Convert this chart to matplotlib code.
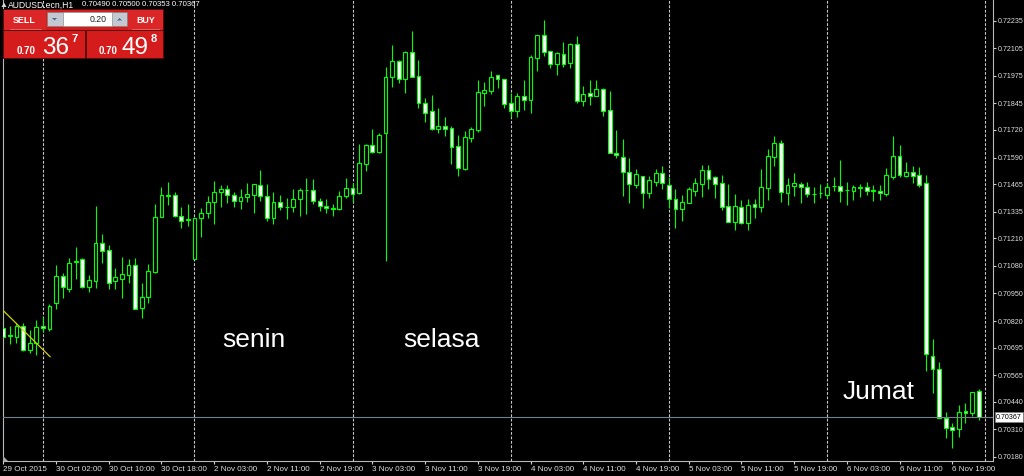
import matplotlib
matplotlib.use("Agg")
import matplotlib.pyplot as plt
import matplotlib.transforms as mtransforms
from matplotlib.patches import Rectangle, Polygon
import numpy as np

plt.rcParams['font.family'] = ['Liberation Sans', 'DejaVu Sans']
plt.rcParams['lines.scale_dashes'] = False

# ---------------- data (AUDUSD.ecn, H1) -- prices in points, price = points / 100000
open_pts = [70789, 70754, 70746, 70798, 70684, 70717, 70798, 70784, 70903, 71033,
            70969, 71098, 71114, 70982, 71010, 71186, 71155, 71009, 71019, 71038,
            71084, 70880, 70935, 71052, 71311, 71407, 71414, 71316, 71296, 71114,
            71304, 71327, 71382, 71426, 71440, 71414, 71387, 71403, 71414, 71461,
            71409, 71304, 71379, 71357, 71358, 71393, 71435, 71437, 71387, 71362,
            71350, 71348, 71409, 71445, 71422, 71560, 71649, 71618, 71704, 71968,
            72046, 71959, 72089, 71976, 71848, 71809, 71726, 71740, 71728, 71644,
            71536, 71683, 71720, 71893, 71903, 71979, 71960, 71846, 71811, 71880,
            71861, 72057, 72167, 72092, 72029, 72076, 72034, 72125, 71856, 71893,
            71880, 71911, 71814, 71610, 71594, 71523, 71461, 71503, 71422, 71476,
            71516, 71461, 71393, 71346, 71377, 71434, 71465, 71531, 71497, 71469,
            71362, 71288, 71356, 71280, 71370, 71358, 71445, 71591, 71660, 71424,
            71457, 71464, 71450, 71419, 71421, 71414, 71454, 71457, 71435, 71434,
            71446, 71450, 71432, 71434, 71418, 71500, 71597, 71505, 71521, 71508,
            71469, 70657, 70593, 70365, 70322, 70310, 70398, 70385, 70490]
high_pts = [70840, 70798, 70811, 70809, 70778, 70825, 70840, 70900, 71084, 71046,
            71117, 71167, 71117, 71037, 71362, 71230, 71178, 71068, 71123, 71112,
            71115, 70998, 71089, 71371, 71453, 71476, 71426, 71356, 71371, 71311,
            71351, 71410, 71481, 71461, 71461, 71429, 71440, 71469, 71466, 71531,
            71465, 71426, 71414, 71398, 71440, 71445, 71492, 71488, 71398, 71393,
            71371, 71432, 71492, 71469, 71654, 71654, 71723, 71704, 72015, 72120,
            72048, 72091, 72186, 72049, 71869, 71885, 71822, 71782, 71739, 71696,
            71716, 71735, 71955, 71947, 71998, 71981, 71962, 71893, 71893, 71955,
            72073, 72169, 72238, 72094, 72089, 72133, 72131, 72162, 71927, 71955,
            71955, 71916, 71903, 71720, 71677, 71586, 71536, 71505, 71503, 71535,
            71550, 71500, 71440, 71414, 71453, 71492, 71555, 71555, 71503, 71508,
            71465, 71418, 71390, 71393, 71395, 71536, 71629, 71691, 71673, 71492,
            71516, 71476, 71473, 71453, 71465, 71472, 71500, 71578, 71476, 71461,
            71465, 71476, 71461, 71461, 71539, 71691, 71649, 71570, 71552, 71544,
            71508, 70734, 70628, 70393, 70338, 70424, 70432, 70486, 70500]
low_pts = [70717, 70712, 70717, 70680, 70668, 70660, 70770, 70774, 70877, 70930,
           70958, 71018, 70974, 70955, 70974, 71092, 70969, 70969, 70930, 71001,
           70875, 70833, 70906, 71045, 71308, 71366, 71311, 71260, 71268, 71111,
           71214, 71304, 71277, 71358, 71374, 71356, 71348, 71382, 71327, 71387,
           71291, 71277, 71343, 71299, 71335, 71315, 71323, 71371, 71338, 71330,
           71316, 71343, 71398, 71382, 71420, 71528, 71610, 71613, 71104, 71924,
           71943, 71893, 71968, 71825, 71759, 71720, 71704, 71691, 71560, 71503,
           71531, 71665, 71712, 71834, 71888, 71919, 71825, 71782, 71782, 71814,
           71798, 71999, 72068, 72010, 71979, 72018, 72010, 71846, 71833, 71837,
           71882, 71786, 71611, 71586, 71410, 71374, 71445, 71354, 71398, 71457,
           71442, 71354, 71257, 71293, 71375, 71409, 71403, 71442, 71398, 71343,
           71286, 71249, 71277, 71249, 71307, 71335, 71390, 71552, 71379, 71366,
           71409, 71374, 71403, 71377, 71401, 71398, 71434, 71382, 71366, 71390,
           71403, 71414, 71387, 71390, 71409, 71488, 71500, 71500, 71469, 71453,
           70586, 70482, 70362, 70268, 70221, 70275, 70341, 70373, 70353]
close_pts = [70746, 70749, 70798, 70684, 70718, 70792, 70789, 70891, 71033, 70979,
             71092, 71103, 70979, 71013, 71186, 71151, 71001, 71026, 71042, 71084,
             70878, 70935, 71057, 71311, 71412, 71412, 71315, 71293, 71299, 71304,
             71327, 71382, 71429, 71442, 71414, 71385, 71406, 71417, 71464, 71409,
             71304, 71379, 71356, 71355, 71393, 71437, 71438, 71385, 71362, 71351,
             71348, 71409, 71445, 71417, 71563, 71649, 71618, 71696, 71971, 72045,
             71959, 72089, 71971, 71846, 71801, 71723, 71739, 71724, 71641, 71542,
             71688, 71724, 71900, 71908, 71971, 71960, 71841, 71811, 71880, 71861,
             72062, 72167, 72089, 72029, 72081, 72031, 72125, 71856, 71889, 71880,
             71911, 71811, 71613, 71600, 71523, 71464, 71512, 71422, 71484, 71516,
             71469, 71393, 71346, 71379, 71440, 71469, 71531, 71489, 71465, 71358,
             71288, 71362, 71280, 71366, 71356, 71450, 71597, 71657, 71426, 71461,
             71469, 71450, 71417, 71416, 71424, 71450, 71457, 71434, 71438, 71450,
             71449, 71434, 71435, 71422, 71508, 71597, 71508, 71521, 71503, 71461,
             70665, 70593, 70365, 70318, 70307, 70393, 70385, 70484, 70367]

time_labels = ["29 Oct 2015", "30 Oct 02:00", "30 Oct 10:00", "30 Oct 18:00",
               "2 Nov 03:00", "2 Nov 11:00", "2 Nov 19:00", "3 Nov 03:00",
               "3 Nov 11:00", "3 Nov 19:00", "4 Nov 03:00", "4 Nov 11:00",
               "4 Nov 19:00", "5 Nov 03:00", "5 Nov 11:00", "5 Nov 19:00",
               "6 Nov 03:00", "6 Nov 11:00", "6 Nov 19:00"]
time_label_bars = [0, 8, 16, 24, 32, 40, 48, 56, 64, 72, 80, 88, 96, 104, 112, 120, 128, 136, 144]
day_start_bars = [6, 29, 53, 77, 101, 125, 149]
price_ticks = [0.72235, 0.72105, 0.71975, 0.71845, 0.71720, 0.71590, 0.71465, 0.71335,
               0.71210, 0.71080, 0.70950, 0.70820, 0.70695, 0.70565, 0.70440, 0.70310, 0.70180]
last_price = 0.70367
trend_x = [0.0, 7.1]
trend_y = [0.70869, 0.70652]
day_notes = [("senin", 33.2, 0.70698), ("selasa", 60.7, 0.70698), ("Jumat", 127.4, 0.70455)]

symbol = "AUDUSD.ecn,H1"
ohlc_text = "0.70490 0.70500 0.70353 0.70367"
lot = "0.20"
bid_big, bid_small = "36", "7"
ask_big, ask_small = "49", "8"

# ---------------- figure
W, H = 1024, 476
fig = plt.figure(figsize=(W / 100, H / 100), dpi=100, facecolor='black')
ax = fig.add_axes([3 / W, (H - 460.7) / H, 990 / W, 460.7 / H], facecolor='black')

o = np.array(open_pts) / 1e5
h = np.array(high_pts) / 1e5
l = np.array(low_pts) / 1e5
c = np.array(close_pts) / 1e5
x = np.arange(len(o))
bull = c >= o

GREEN = '#00ff00'
ax.vlines(x, l, h, colors=GREEN, lw=0.8, zorder=2)
ax.bar(x, np.maximum(np.abs(c - o), 0.000012), bottom=np.minimum(o, c), width=0.58,
       color=np.where(bull, 'black', 'white'), edgecolor=GREEN, linewidth=0.8, zorder=3)

ax.set_xlim(-0.046, 150.18)
ax.set_ylim(0.701621, 0.72332)

for d in day_start_bars:
    ax.axvline(d, color='#c8c8c8', lw=0.8, linestyle=(0, (2.0, 1.2)), zorder=1)

ax.axhline(last_price, color='#708090', lw=0.8, zorder=4)
ax.plot(trend_x, trend_y, color='#d2d200', lw=0.9, zorder=5)

for txt, bx, py in day_notes:
    ax.text(bx, py, txt, color='white', fontsize=19, ha='left', va='baseline', zorder=6)

for s in ['left', 'bottom', 'right']:
    ax.spines[s].set_color('#b8b8b8')
    ax.spines[s].set_linewidth(0.8)
ax.spines['top'].set_visible(False)

ax.yaxis.tick_right()
ax.set_yticks(price_ticks)
ax.set_yticklabels([f"{v:.5f}" for v in price_ticks])
ax.tick_params(axis='y', colors='#d0d0d0', labelsize=5.1, length=2.5, width=0.8, pad=1.0)
ax.set_xticks(time_label_bars)
ax.set_xticklabels(time_labels, ha='left')
ax.tick_params(axis='x', colors='#d0d0d0', labelsize=5.8, length=2.5, width=0.8, pad=1.0)
for lab in ax.get_xticklabels():
    lab.set_color('#e0e0e0')
for lab in ax.get_yticklabels():
    lab.set_color('#e0e0e0')

trans = mtransforms.blended_transform_factory(ax.transAxes, ax.transData)
ax.text(1.003, last_price, f"{last_price:.5f}", transform=trans, color='black', fontsize=5.1,
        ha='left', va='center', zorder=7, clip_on=False,
        bbox=dict(boxstyle='square,pad=0.2', fc='white', ec='#808080', lw=0.5))

# ---------------- overlay (one-click trading panel and header)
ov = fig.add_axes([0, 0, 1, 1], facecolor='none')
ov.set_xlim(0, W)
ov.set_ylim(H, 0)
ov.axis('off')

RED = '#d51c1c'
ov.add_patch(Rectangle((3, 9), 161, 50, fc='#5a0a0a', ec='none'))
ov.add_patch(Rectangle((4, 10), 42, 20, fc='#da2626', ec='none'))
ov.add_patch(Rectangle((128, 10), 35, 20, fc='#da2626', ec='none'))
ov.add_patch(Rectangle((46, 10), 82, 20, fc=RED, ec='none'))
ov.add_patch(Rectangle((4, 31), 81, 27, fc=RED, ec='none'))
ov.add_patch(Rectangle((87, 31), 76, 27, fc=RED, ec='none'))
ov.plot([10, 41], [28.5, 28.5], color='#e86a6a', lw=0.6)
ov.plot([132, 159], [28.5, 28.5], color='#e86a6a', lw=0.6)
ov.add_patch(Rectangle((47, 12), 80, 14, fc='#c4c8d0', ec='#808080', lw=0.5))
ov.add_patch(Rectangle((63, 12), 49, 14, fc='white', ec='#909090', lw=0.5))
ov.add_patch(Polygon([(52, 18), (57, 18), (54.5, 20.5)], fc='#4a6a9a', ec='none'))
ov.add_patch(Polygon([(117, 20.5), (122, 20.5), (119.5, 18)], fc='#4a6a9a', ec='none'))
ov.text(24.5, 20.5, "SELL", color='white', fontsize=6.4, fontweight='bold', ha='center', va='center')
ov.text(145.5, 20.5, "BUY", color='white', fontsize=6.4, fontweight='bold', ha='center', va='center')
ov.text(107, 19.5, lot, color='#202020', fontsize=6.3, ha='right', va='center')
ov.text(17, 54, "0.70", color='white', fontsize=7, fontweight='bold', ha='left', va='baseline')
ov.text(42, 54, bid_big, color='white', fontsize=17.5, ha='left', va='baseline')
ov.text(72, 42.5, bid_small, color='white', fontsize=8, fontweight='bold', ha='left', va='baseline')
ov.text(99, 54, "0.70", color='white', fontsize=7, fontweight='bold', ha='left', va='baseline')
ov.text(121, 54, ask_big, color='white', fontsize=17.5, ha='left', va='baseline')
ov.text(151, 42.5, ask_small, color='white', fontsize=8, fontweight='bold', ha='left', va='baseline')

ov.add_patch(Polygon([(1.5, 7), (6.5, 7), (4, 2.5)], fc='#d8d8d8', ec='none'))
ov.text(8, 5, symbol, color='white', fontsize=6.2, ha='left', va='center')
ov.text(82, 5, ohlc_text, color='white', fontsize=5.6, ha='left', va='center')
ov.add_patch(Polygon([(3.3, 455.5), (3.3, 460.5), (8, 460.5)], fc='#a8a8a8', ec='none'))

fig.savefig("out.png", dpi=100, facecolor='black')
